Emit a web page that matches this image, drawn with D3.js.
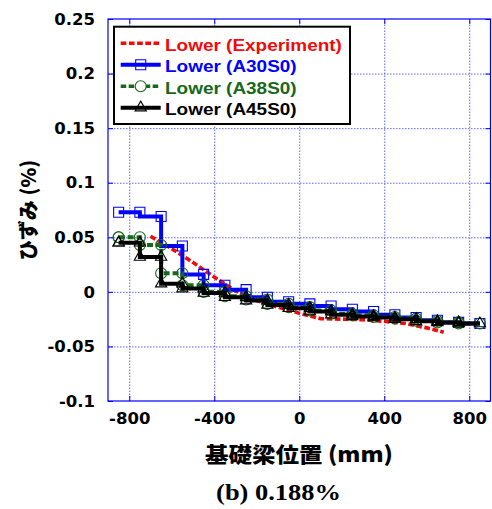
<!DOCTYPE html>
<html>
<head>
<meta charset="utf-8">
<script src="https://cdn.jsdelivr.net/npm/d3@7"></script>
<style>
  html, body { margin: 0; padding: 0; background: #fff; }
  svg { display: block; }
</style>
</head>
<body>
<div id="chart"></div>
<script>
// ---- data ----
const xTicks = [-800, -400, 0, 400, 800];
const xTickLabels = ["-800", "-400", "0", "400", "800"];
const yTicks = [-0.1, -0.05, 0, 0.05, 0.1, 0.15, 0.2, 0.25];
const yTickLabels = ["-0.1", "-0.05", "0", "0.05", "0.1", "0.15", "0.2", "0.25"];

const positions = [-850, -750, -650, -550, -450, -350, -250, -150, -50, 50, 150, 250, 350, 450, 550, 650, 750, 850];
const a30s0 = [0.073, 0.073, 0.069, 0.042, 0.016, 0.006, 0.002, -0.005, -0.009, -0.011, -0.013, -0.016, -0.018, -0.021, -0.0235, -0.026, -0.028, -0.029];
const a38s0 = [0.050, 0.050, 0.043, 0.017, 0.006, 0.000, -0.004, -0.007, -0.011, -0.014, -0.017, -0.020, -0.0215, -0.023, -0.0245, -0.0265, -0.028, -0.029];
const a45s0 = [0.045, 0.045, 0.032, 0.0075, 0.003, -0.001, -0.005, -0.008, -0.012, -0.015, -0.018, -0.021, -0.0225, -0.0235, -0.025, -0.027, -0.028, -0.029];

const expPositions = [-700, -600, -500, -400, -300, -200, -100, 0, 100, 200, 300, 400, 500, 600, 680];
const expValues = [0.051, 0.0395, 0.027, 0.0135, 0.0008, -0.008, -0.014, -0.0195, -0.0245, -0.025, -0.0255, -0.027, -0.029, -0.033, -0.037];

const seriesNames = ["Lower (Experiment)", "Lower (A30S0)", "Lower (A38S0)", "Lower (A45S0)"];

// ---- layout ----
const W = 492, H = 509;
const L = 108, R = 490.5, T = 19, B = 401;

const svg = d3.select("#chart").append("svg").attr("width", W).attr("height", H);

const x = d3.scaleLinear().domain([-900, 900]).range([L, R]);
const y = d3.scaleLinear().domain([-0.1, 0.25]).range([B, T]);

const BLUE = "#0000ff", GREEN = "#16691a", RED = "#f00a0a", BLACK = "#000000";

// gridlines
const gridStyle = g => {
  g.select(".domain").remove();
  g.selectAll("line").attr("stroke", "#6060ff").attr("stroke-width", 1).attr("stroke-dasharray", "1.5,1.5");
};
svg.append("g").attr("transform", `translate(0,${B})`)
  .call(d3.axisBottom(x).tickValues(xTicks).tickSize(-(B - T)).tickFormat(""))
  .call(gridStyle);
svg.append("g").attr("transform", `translate(${L},0)`)
  .call(d3.axisLeft(y).tickValues(yTicks.slice(1, -1)).tickSize(-(R - L)).tickFormat(""))
  .call(gridStyle);

// tick marks & labels
const tickFont = g => {
  g.attr("font-family", "'DejaVu Sans', sans-serif").attr("font-size", 16.5).attr("font-weight", "bold");
  g.select(".domain").remove();
  g.selectAll("line").attr("stroke", BLUE).attr("stroke-width", 1);
  g.selectAll("text").attr("fill", "#000");
};
svg.append("g").attr("transform", `translate(0,${B})`)
  .call(d3.axisBottom(x).tickValues(xTicks).tickSizeInner(-5).tickSizeOuter(0).tickPadding(11)
    .tickFormat((d, i) => xTickLabels[i]))
  .call(tickFont);
svg.append("g").attr("transform", `translate(0,${T})`)
  .call(d3.axisTop(x).tickValues(xTicks).tickSizeInner(-5).tickSizeOuter(0).tickFormat(""))
  .call(tickFont);
svg.append("g").attr("transform", `translate(${L},0)`)
  .call(d3.axisLeft(y).tickValues(yTicks).tickSizeInner(-5).tickSizeOuter(0).tickPadding(13)
    .tickFormat((d, i) => yTickLabels[i]))
  .call(tickFont);
svg.append("g").attr("transform", `translate(${R},0)`)
  .call(d3.axisRight(y).tickValues(yTicks).tickSizeInner(-5).tickSizeOuter(0).tickFormat(""))
  .call(tickFont);

// frame
svg.append("rect").attr("x", L).attr("y", T).attr("width", R - L).attr("height", B - T)
  .attr("fill", "none").attr("stroke", BLUE).attr("stroke-width", 1.2);

// ---- series ----
const plot = svg.append("g");

// experiment (dashed polyline)
const expLine = d3.line().x(d => x(d[0])).y(d => y(d[1]));
plot.append("path")
  .attr("d", expLine(d3.zip(expPositions, expValues)))
  .attr("fill", "none").attr("stroke", RED).attr("stroke-width", 3.6)
  .attr("stroke-dasharray", "5.7,2.5");

const stepLine = d3.line().x(d => x(d[0])).y(d => y(d[1])).curve(d3.curveStepBefore);

const symSquare = d3.symbol().type(d3.symbolSquare).size(100);
const symCircle = d3.symbol().type(d3.symbolCircle).size(95);
const symTri = d3.symbol().type(d3.symbolTriangle).size(55);

function drawSeries(values, color, dash, sym, bothCorners) {
  const pts = d3.zip(positions, values);
  plot.append("path").attr("d", stepLine(pts))
    .attr("fill", "none").attr("stroke", color).attr("stroke-width", 4)
    .attr("stroke-dasharray", dash);
  let marks = pts.slice();
  if (bothCorners) {
    for (let i = 0; i < pts.length - 1; i++) marks.push([positions[i], values[i + 1]]);
  }
  plot.append("g").selectAll("path").data(marks).join("path")
    .attr("transform", d => `translate(${x(d[0])},${y(d[1])})`)
    .attr("d", sym())
    .attr("fill", "none").attr("stroke", color).attr("stroke-width", 1.1);
}
drawSeries(a30s0, BLUE, null, symSquare, false);
drawSeries(a38s0, GREEN, "6,3", symCircle, true);
drawSeries(a45s0, BLACK, null, symTri, true);

// ---- legend ----
const lg = svg.append("g");
lg.append("rect").attr("x", 114).attr("y", 26.7).attr("width", 236).attr("height", 97.3)
  .attr("fill", "#fff").attr("stroke", "#000").attr("stroke-width", 2);
const legendColors = [RED, BLUE, GREEN, BLACK];
const legendDash = ["5.7,2.5", null, "5.5,2.5", null];
const legendSyms = [null, symSquare, symCircle, symTri];
seriesNames.forEach((name, i) => {
  const ry = 43.3 + i * 21.45;
  lg.append("line").attr("x1", 120.7).attr("x2", 160.7).attr("y1", ry).attr("y2", ry)
    .attr("stroke", legendColors[i]).attr("stroke-width", i === 0 || i === 2 ? 3.6 : 4)
    .attr("stroke-dasharray", legendDash[i]);
  if (legendSyms[i]) {
    lg.append("path").attr("transform", `translate(140.7,${ry})`).attr("d", legendSyms[i]())
      .attr("fill", i === 2 ? "#fff" : "none").attr("stroke", legendColors[i]).attr("stroke-width", 1.1);
  }
  lg.append("text").attr("transform", `translate(165,${ry + 7.4}) scale(1.115,1)`)
    .attr("font-family", "'Liberation Sans', Arial, sans-serif").attr("font-weight", "bold")
    .attr("font-size", 17).attr("fill", legendColors[i]).text(name);
});

// ---- axis titles ----
svg.append("text").attr("transform", "translate(27,210) rotate(-90)")
  .attr("text-anchor", "middle").attr("dominant-baseline", "central")
  .attr("font-family", "'Noto Sans CJK JP', sans-serif").attr("font-weight", 900)
  .attr("font-size", 20).text("ひずみ (%)");

svg.append("text").attr("transform", "translate(299,461.7) scale(1.12,1)")
  .attr("text-anchor", "middle")
  .attr("font-family", "'Noto Sans CJK JP', sans-serif").attr("font-weight", 900)
  .attr("font-size", 21).text("基礎梁位置 (mm)");

svg.append("text").attr("transform", "translate(278.5,500) scale(1.15,1)")
  .attr("text-anchor", "middle")
  .attr("font-family", "'Liberation Serif', 'Times New Roman', serif").attr("font-weight", "bold")
  .attr("font-size", 23).text("(b) 0.188%");
</script>
</body>
</html>
